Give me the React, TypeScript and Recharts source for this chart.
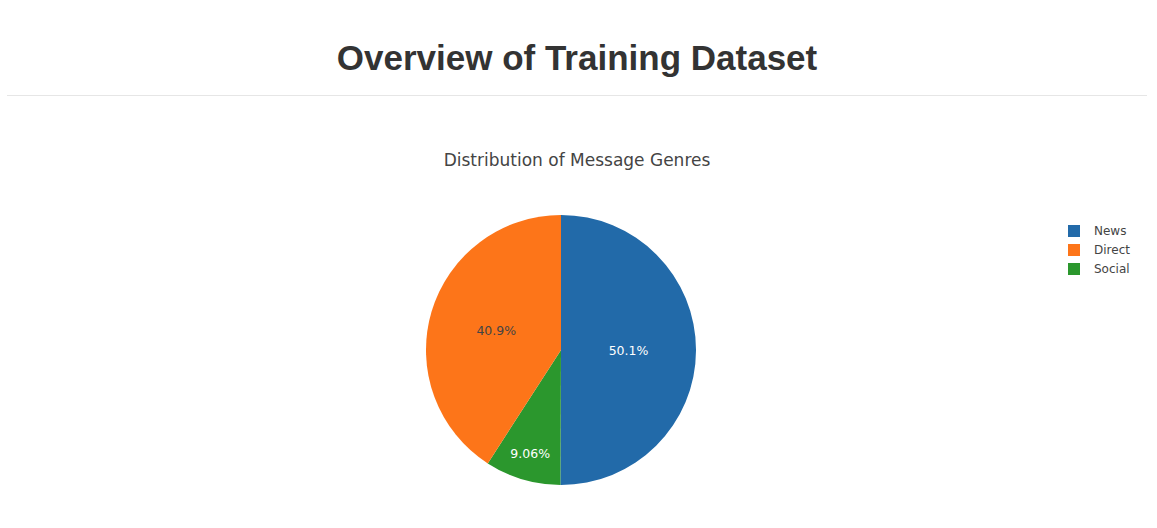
import React from "react"
import { PieChart, Pie, Cell, Legend } from "recharts"

// ordem no sentido horário a partir do topo, como no gráfico original
const genres = ["News", "Social", "Direct"]
const counts = [13054, 2361, 10657]
const colors = ["#226aa9", "#2b972d", "#fd7519"]
const legendOrder = ["News", "Direct", "Social"]
const labelColors = ["#ffffff", "#ffffff", "#444444"]

const data = genres.map((g, i) => ({ name: g, value: counts[i] }))

const RADIAN = Math.PI / 180
const FONT = '"DejaVu Sans", Verdana, sans-serif'

function renderLabel(props: any) {
  const { cx, cy, midAngle, outerRadius, percent, index } = props
  // fatias pequenas: texto mais perto da borda
  const frac = percent < 0.15 ? 0.8 : 0.5
  const r = outerRadius * frac
  const x = cx + r * Math.cos(-midAngle * RADIAN)
  const y = cy + r * Math.sin(-midAngle * RADIAN)
  return (
    <text
      x={x}
      y={y}
      fill={labelColors[index]}
      textAnchor="middle"
      dominantBaseline="central"
      style={{ fontFamily: FONT, fontSize: 12.5 }}
    >
      {(percent * 100).toPrecision(3)}%
    </text>
  )
}

function renderLegend(props: any) {
  const items = [...(props.payload || [])].sort(
    (a: any, b: any) => legendOrder.indexOf(a.value) - legendOrder.indexOf(b.value)
  )
  return (
    <div style={{ fontFamily: FONT, fontSize: 12, color: "#444" }}>
      {items.map((it: any) => (
        <div key={it.value} style={{ display: "flex", alignItems: "center", height: 19 }}>
          <span style={{ width: 12, height: 12, background: it.color, display: "inline-block", marginRight: 14 }} />
          <span>{it.value}</span>
        </div>
      ))}
    </div>
  )
}

export default function App() {
  return (
    <div style={{ position: "absolute", left: 0, top: 0, width: 1157, height: 528, background: "#fff" }}>
      <div
        style={{
          position: "absolute",
          top: 35,
          left: 0,
          width: 1154,
          textAlign: "center",
          fontFamily: '"Liberation Sans", Arial, sans-serif',
          fontWeight: 700,
          fontSize: 35,
          color: "#333",
          lineHeight: "46px",
        }}
      >
        Overview of Training Dataset
      </div>
      <div style={{ position: "absolute", top: 95, left: 7, width: 1140, height: 1, background: "#e6e6e6" }} />
      <div
        style={{
          position: "absolute",
          top: 148,
          left: 0,
          width: 1154,
          textAlign: "center",
          fontFamily: FONT,
          fontSize: 17,
          color: "#444",
          lineHeight: "24px",
        }}
      >
        Distribution of Message Genres
      </div>
      <div style={{ position: "absolute", left: 0, top: 0 }}>
        <PieChart width={1157} height={528} margin={{ top: 0, right: 0, bottom: 0, left: 0 }}>
          <Pie
            data={data}
            dataKey="value"
            nameKey="name"
            cx={561}
            cy={350}
            outerRadius={135}
            startAngle={90}
            endAngle={-270}
            stroke="none"
            label={renderLabel}
            labelLine={false}
            isAnimationActive={false}
          >
            {data.map((d, i) => (
              <Cell key={d.name} fill={colors[i]} />
            ))}
          </Pie>
          <Legend
            layout="vertical"
            align="right"
            verticalAlign="top"
            content={renderLegend}
            wrapperStyle={{ position: "absolute", left: 1068, top: 221, width: 80 }}
          />
        </PieChart>
      </div>
    </div>
  )
}
